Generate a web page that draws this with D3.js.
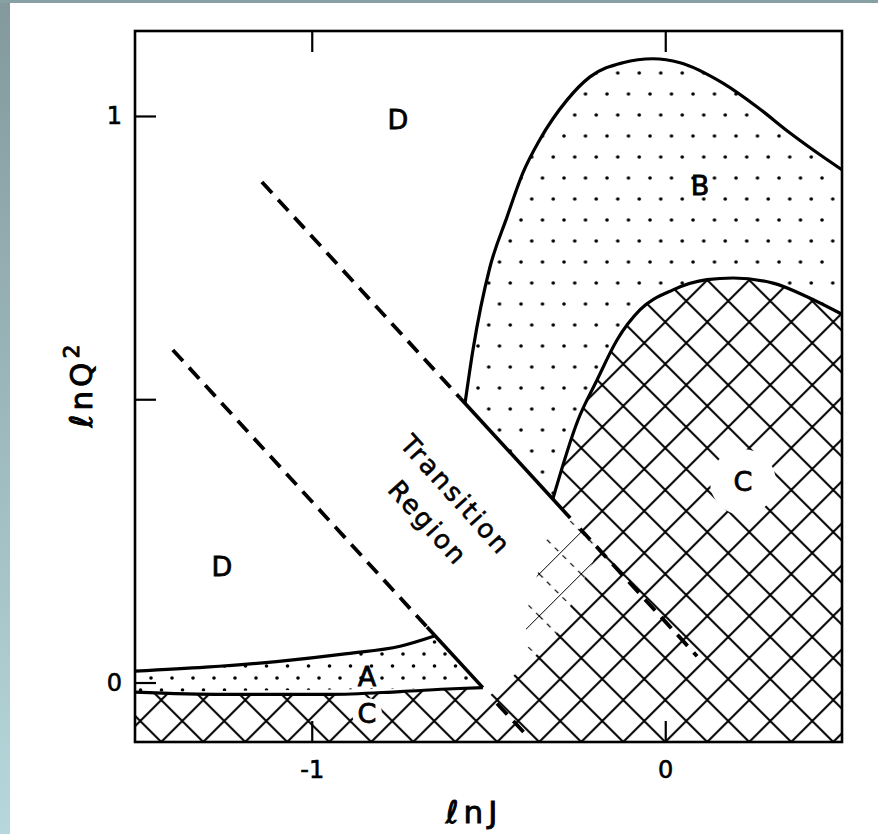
<!DOCTYPE html>
<html>
<head>
<meta charset="utf-8">
<script src="https://cdn.jsdelivr.net/npm/d3@7"></script>
<style>
  body { margin: 0; background: #fff; }
  text { font-family: "DejaVu Sans", sans-serif; fill: #000; }
</style>
</head>
<body>
<div id="chart"></div>
<script>
// axis ranges and ticks
var xDomain = [-1.5, 0.5];
var yDomain = [-0.105, 1.15];
var xTicks = [-1, 0];
var xTickLabels = ['-1', '0'];
var yTicks = [0, 0.5, 1];
var yTickLabels = ['0', '', '1'];

// region B outer boundary (lnJ, lnQ^2)
var bOuter = [[-0.5665, 0.4925], [-0.544, 0.587], [-0.496, 0.733], [-0.448, 0.821],
  [-0.403, 0.899], [-0.355, 0.958], [-0.278, 1.028], [-0.213, 1.069], [-0.120, 1.094],
  [-0.035, 1.101], [0.042, 1.094], [0.163, 1.058], [0.260, 1.016], [0.353, 0.970],
  [0.446, 0.928], [0.500, 0.905]];
// lower corners of the dotted fill for B (the part under C is hatched over)
var bFloor = [[0.500, 0.300], [-0.269, 0.2905]];
// region C upper boundary
var cInner = [[-0.318, 0.324], [-0.247, 0.463], [-0.193, 0.534], [-0.136, 0.605],
  [-0.071, 0.658], [0.022, 0.693], [0.118, 0.711], [0.192, 0.714], [0.305, 0.705],
  [0.401, 0.681], [0.500, 0.650]];
// region A band
var aUpper = [[-1.5, 0.020], [-1.3, 0.027], [-1.1, 0.037], [-0.9, 0.051], [-0.75, 0.064], [-0.651, 0.0825]];
var aLower = [[-1.5, -0.017], [-1.25, -0.021], [-0.95, -0.021], [-0.75, -0.016], [-0.6, -0.011], [-0.516, -0.009]];
// where the crosshatch of C stops near the transition region
var cEdge = [[-0.516, -0.033], [-0.383, 0.036], [-0.306, 0.089], [-0.185, 0.237], [-0.269, 0.2905]];
var cFaded = [[-0.269, 0.2905], [-0.3345, 0.260], [-0.360, 0.195], [-0.391, 0.128], [-0.397, 0.060],
  [-0.43, -0.02], [-0.516, -0.033], [-0.383, 0.036], [-0.306, 0.089], [-0.185, 0.237]];
// transition region borders
var upperDash1 = [[-1.141, 0.8835], [-0.581, 0.5027]];
var upperSolid = [[-0.581, 0.5027], [-0.269, 0.2905]];
var upperDash2 = [[-0.241, 0.2715], [0.09, 0.0464]];
var lowerDash1 = [[-1.393, 0.587], [-0.674, 0.098]];
var lowerSolid = [[-0.674, 0.098], [-0.516, -0.009]];
var lowerDash2 = [[-0.476, -0.037], [-0.388, -0.096]];

var regionLabels = [
  {t: 'D', x: -0.756, y: 0.993},
  {t: 'B', x: 0.098, y: 0.878},
  {t: 'D', x: -1.254, y: 0.204},
  {t: 'A', x: -0.844, y: 0.010},
  {t: 'C', x: -0.844, y: -0.054, knock: 15},
  {t: 'C', x: 0.220, y: 0.354, knock: 33}
];

var W = 878, H = 834;
var x = d3.scaleLinear().domain(xDomain).range([135, 842]);
var y = d3.scaleLinear().domain(yDomain).range([742, 31]);

var svg = d3.select('#chart').append('svg')
  .attr('width', W).attr('height', H);

var defs = svg.append('defs');
var grad = defs.append('linearGradient').attr('id', 'edge')
  .attr('x1', 0).attr('y1', 0).attr('x2', 0).attr('y2', 1);
grad.append('stop').attr('offset', 0).attr('stop-color', '#83999c');
grad.append('stop').attr('offset', 1).attr('stop-color', '#b6d8dc');

// crosshatch, lined up with the bottom frame
var hatch = defs.append('pattern').attr('id', 'hatch')
  .attr('patternUnits', 'userSpaceOnUse')
  .attr('x', x(0)).attr('y', y(yDomain[0]))
  .attr('width', 42).attr('height', 42);
hatch.append('rect').attr('width', 42).attr('height', 42).attr('fill', '#fff');
hatch.append('path').attr('d', 'M0,0L42,42M0,42L42,0')
  .attr('stroke', '#000').attr('stroke-width', 2);

// faint continuation of the hatch inside the transition region
var faded = defs.append('pattern').attr('id', 'faded')
  .attr('patternUnits', 'userSpaceOnUse')
  .attr('x', x(0)).attr('y', y(yDomain[0]))
  .attr('width', 42).attr('height', 42);
faded.append('path').attr('d', 'M0,42L42,0')
  .attr('stroke', '#000').attr('stroke-width', 1);
faded.append('path').attr('d', 'M0,0L42,42')
  .attr('stroke', '#000').attr('stroke-width', 1.2)
  .attr('stroke-dasharray', '5,6');

function dots(id, w, h, pts) {
  var p = defs.append('pattern').attr('id', id)
    .attr('patternUnits', 'userSpaceOnUse')
    .attr('width', w).attr('height', h);
  p.append('rect').attr('width', w).attr('height', h).attr('fill', '#fff');
  pts.forEach(function (d) {
    p.append('circle').attr('cx', d[0]).attr('cy', d[1]).attr('r', 1.8).attr('fill', '#000');
  });
}
dots('dotsB', 21.5, 42, [[5, 10], [15.75, 31]]);
dots('dotsA', 21, 24, [[4, 6], [14.5, 18]]);

// page edge
svg.append('rect').attr('x', 0).attr('y', 0).attr('width', 10).attr('height', H).attr('fill', 'url(#edge)');
svg.append('rect').attr('x', 0).attr('y', 0).attr('width', W).attr('height', 3).attr('fill', '#86a0a3');

var smooth = d3.line().x(function (d) { return x(d[0]); }).y(function (d) { return y(d[1]); })
  .curve(d3.curveMonotoneX);
var straight = d3.line().x(function (d) { return x(d[0]); }).y(function (d) { return y(d[1]); });
function cont(s) { return s.replace(/^M/, 'L'); }

var corners = [[xDomain[1], yDomain[0]], [xDomain[0], yDomain[0]]];
var cPath = smooth(cInner) + cont(straight(corners)) + cont(smooth(aLower)) + cont(straight(cEdge)) + 'Z';

// regions: dotted fills first, the hatch of C on top
svg.append('path')
  .attr('d', straight(cFaded) + 'Z')
  .attr('fill', 'url(#faded)');
svg.append('path')
  .attr('d', smooth(bOuter) + cont(straight(bFloor)) + 'Z')
  .attr('fill', 'url(#dotsB)');
svg.append('path')
  .attr('d', smooth(aUpper) + cont(straight([lowerSolid[1], aLower[0]])) + 'Z')
  .attr('fill', 'url(#dotsA)');
svg.append('path')
  .attr('d', cPath)
  .attr('fill', 'url(#hatch)');
svg.append('path')
  .attr('d', smooth(aLower) + cont(straight([[aLower[aLower.length - 1][0], yDomain[0]], [xDomain[0], yDomain[0]]])) + 'Z')
  .attr('fill', 'url(#hatch)');

// white patches round the C labels
svg.selectAll('circle.knock')
  .data(regionLabels.filter(function (d) { return d.knock; }))
  .enter().append('circle')
  .attr('class', 'knock')
  .attr('cx', function (d) { return x(d.x); })
  .attr('cy', function (d) { return y(d.y); })
  .attr('r', function (d) { return d.knock; })
  .attr('fill', '#fff');

// boundaries
[bOuter, cInner, aUpper, aLower].forEach(function (c) {
  svg.append('path').attr('d', smooth(c)).attr('fill', 'none')
    .attr('stroke', '#000').attr('stroke-width', 3.2);
});
[upperSolid, lowerSolid].forEach(function (s) {
  svg.append('path').attr('d', straight(s)).attr('fill', 'none')
    .attr('stroke', '#000').attr('stroke-width', 3.6);
});
[upperDash1, upperDash2, lowerDash1, lowerDash2].forEach(function (s) {
  svg.append('path').attr('d', straight(s)).attr('fill', 'none')
    .attr('stroke', '#000').attr('stroke-width', 3.8)
    .attr('stroke-dasharray', '15,9');
});

// frame and ticks
svg.append('rect')
  .attr('x', x(xDomain[0])).attr('y', y(yDomain[1]))
  .attr('width', x(xDomain[1]) - x(xDomain[0]))
  .attr('height', y(yDomain[0]) - y(yDomain[1]))
  .attr('fill', 'none').attr('stroke', '#000').attr('stroke-width', 2.6);

var gLeft = svg.append('g').attr('transform', 'translate(' + x(xDomain[0]) + ',0)')
  .call(d3.axisLeft(y).tickValues(yTicks).tickSize(-21).tickPadding(13)
    .tickFormat(function (d, i) { return yTickLabels[i]; }));
var gBottom = svg.append('g').attr('transform', 'translate(0,' + y(yDomain[0]) + ')')
  .call(d3.axisBottom(x).tickValues(xTicks).tickSize(-21).tickPadding(19)
    .tickFormat(function (d, i) { return xTickLabels[i]; }));
var gTop = svg.append('g').attr('transform', 'translate(0,' + y(yDomain[1]) + ')')
  .call(d3.axisTop(x).tickValues(xTicks).tickSize(-21).tickFormat(''));
[gLeft, gBottom, gTop].forEach(function (g) {
  g.select('.domain').remove();
  g.selectAll('line').attr('stroke', '#000').attr('stroke-width', 2.2);
  g.selectAll('text').style('font-family', '"DejaVu Sans", sans-serif')
    .style('font-size', '24px').attr('fill', '#000')
    .attr('stroke', '#000').attr('stroke-width', 0.6);
});

// region letters
svg.selectAll('text.region')
  .data(regionLabels)
  .enter().append('text')
  .attr('class', 'region')
  .attr('x', function (d) { return x(d.x); })
  .attr('y', function (d) { return y(d.y); })
  .attr('text-anchor', 'middle')
  .attr('dominant-baseline', 'central')
  .attr('stroke', '#000').attr('stroke-width', 0.8)
  .style('font-size', '27px')
  .text(function (d) { return d.t; });

// transition region text
[['Transition', -0.592, 0.331], ['Region', -0.671, 0.2815]].forEach(function (t) {
  svg.append('text')
    .attr('transform', 'translate(' + x(t[1]) + ',' + y(t[2]) + ') rotate(48)')
    .attr('text-anchor', 'middle')
    .attr('dominant-baseline', 'central')
    .attr('stroke', '#000').attr('stroke-width', 0.6)
    .style('font-size', '26px')
    .style('letter-spacing', '2.5px')
    .text(t[0]);
});

// axis titles
svg.append('text')
  .attr('x', 474).attr('y', 823)
  .attr('text-anchor', 'middle')
  .attr('stroke', '#000').attr('stroke-width', 0.9)
  .style('font-size', '31px').style('letter-spacing', '5px')
  .text('ℓnJ');
var yl = svg.append('text')
  .attr('transform', 'translate(92,384) rotate(-90)')
  .attr('text-anchor', 'middle')
  .attr('stroke', '#000').attr('stroke-width', 0.9)
  .style('font-size', '31px').style('letter-spacing', '4px');
yl.append('tspan').text('ℓnQ');
yl.append('tspan').attr('dy', -13).style('font-size', '22px').text('2');
</script>
</body>
</html>
